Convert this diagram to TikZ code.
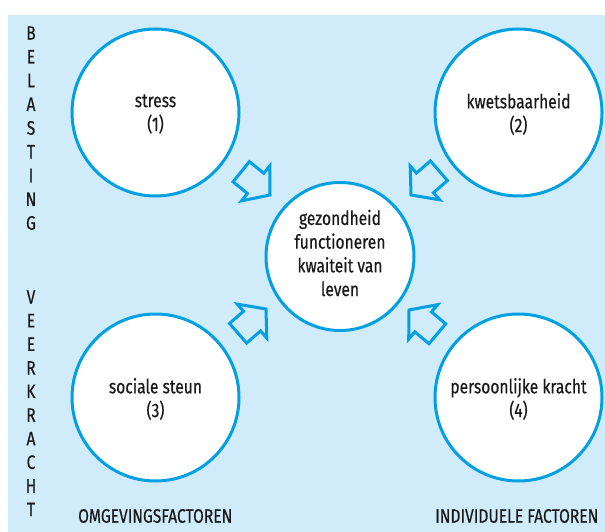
\documentclass[tikz,border=0pt]{standalone}
\usepackage{fontspec}
\setmainfont[FakeStretch=0.80,FakeBold=0.4]{Fira Sans}
\definecolor{bgblue}{RGB}{208,236,250}
\definecolor{lineblue}{RGB}{0,160,226}
\definecolor{txt}{RGB}{25,25,25}
\begin{document}
\begin{tikzpicture}[x=1pt,y=-1pt,
  circ/.style={circle,draw=lineblue,fill=white,line width=3pt,inner sep=0pt,minimum size=#1},
  lbl/.style={font=\fontsize{19.5}{23.7}\selectfont,text=txt,inner sep=0pt,align=center},
  blockarrow/.style={draw=lineblue,line width=3pt,line join=miter}]
\useasboundingbox (0,0) rectangle (605,532);
\fill[bgblue] (7.5,15) rectangle (605,532);
% circles
\node[circ=167pt] (c1) at (155.5,112.5) {};
\node[circ=167pt] (c2) at (518.5,112.5) {};
\node[circ=167pt] (c3) at (155.5,397.5) {};
\node[circ=167pt] (c4) at (518.5,397.5) {};
\node[circ=148pt] (c0) at (340,256.5) {};
\node[lbl] (l1) at (155.5,114) {stress\\(1)};
\node[lbl] (l2) at (518.5,114) {kwetsbaarheid\\(2)};
\node[lbl] (l3) at (155.5,399) {sociale steun\\(3)};
\node[lbl] (l4) at (518.5,399) {persoonlijke kracht\\(4)};
\node[lbl] (l0) at (340,253) {gezondheid\\functioneren\\kwaiteit van\\leven};
% arrows
\coordinate (t1) at (270,195);
\coordinate (t2) at (411,195);
\coordinate (t3) at (266,309);
\coordinate (t4) at (409,310);
\foreach \t/\a in {t1/-39,t2/-139,t3/41,t4/140}{
  \draw[blockarrow,shift={(\t)},rotate=\a] (0,0) -- (-18.5,22.5) -- (-18.5,13) -- (-37,13) -- (-37,-13) -- (-18.5,-13) -- (-18.5,-22.5) -- cycle;
}
% vertical letters
\foreach \ch [count=\i from 0] in {B,E,L,A,S,T,I,N,G}{
  \node[lbl] (b\i) at (31,33+23.75*\i) {\ch};
}
\foreach \ch [count=\i from 0] in {V,E,E,R,K,R,A,C,H,T}{
  \node[lbl] (v\i) at (31,297+23.6*\i) {\ch};
}
\node[lbl,anchor=west] (omg) at (78,516) {OMGEVINGSFACTOREN};
\node[lbl,anchor=west] (ind) at (435,516) {INDIVIDUELE FACTOREN};
\end{tikzpicture}
\end{document}
